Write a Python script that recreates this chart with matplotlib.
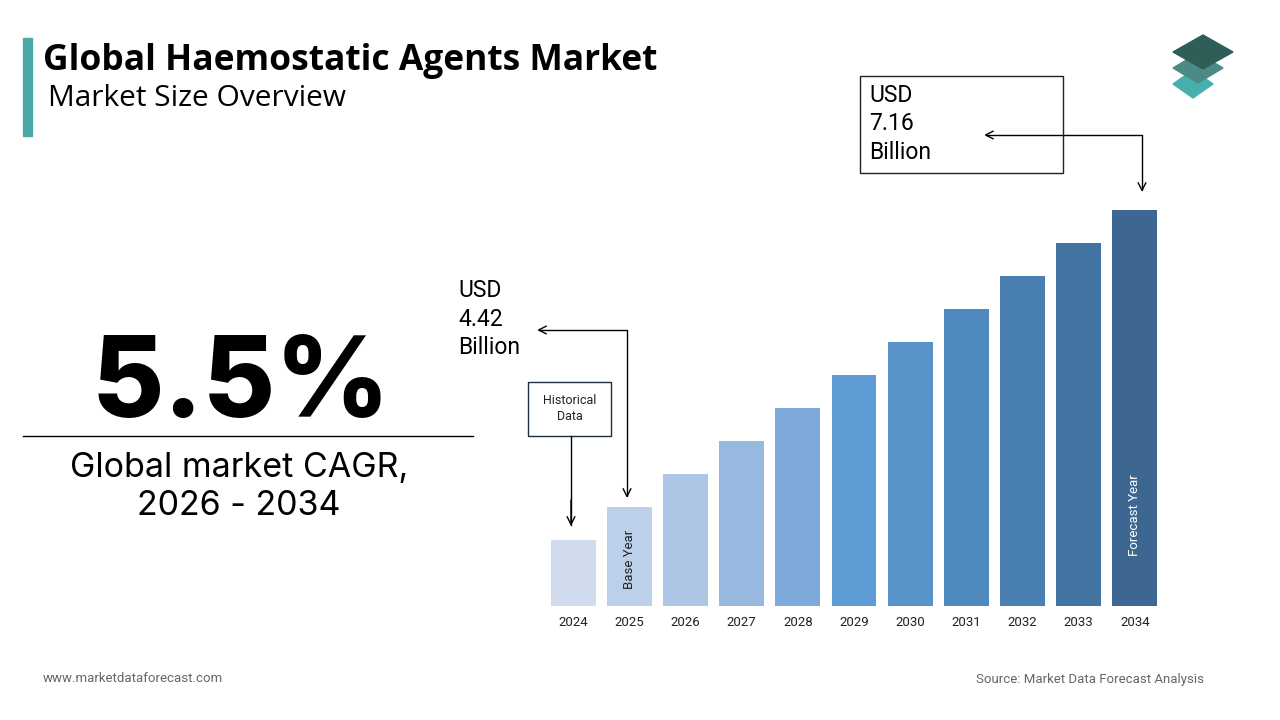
import matplotlib.pyplot as plt
from matplotlib.patches import Rectangle, Polygon

W, H = 1280, 720

years = ['2024', '2025', '2026', '2027', '2028', '2029', '2030', '2031', '2032', '2033', '2034']
# bar heights as drawn (relative units)
heights = [2, 3, 4, 5, 6, 7, 8, 9, 10, 11, 12]
bar_colors = ['#d0dcee', '#bdd0ea', '#aec6e5', '#97b9df', '#7eaadb', '#5d9bd5',
              '#5893c9', '#4f89bd', '#4a7fb1', '#4373a0', '#3d6790']
cagr = '5.5%'
base_label = 'USD\n4.42\nBillion'
end_label = 'USD\n7.16\nBillion'


def fx(x):
    return x / W


def fy(y):
    return 1 - y / H


fig = plt.figure(figsize=(12.8, 7.2), dpi=100)
fig.patch.set_facecolor('white')

# bar chart
ax = fig.add_axes([fx(545), fy(606), (1163 - 545) / W, (606 - 210) / H])
xs = range(len(years))
ax.bar(xs, heights, width=0.8, color=bar_colors)
ax.set_xlim(-0.5, len(years) - 0.5)
ax.set_ylim(0, 12)
ax.set_xticks(list(xs))
ax.set_xticklabels(years, fontsize=9.5, color='#222222', family='Roboto')
ax.tick_params(axis='x', length=0, pad=7)
ax.set_yticks([])
for s in ax.spines.values():
    s.set_visible(False)
ax.patch.set_alpha(0)

ax.text(1, 0.52, 'Base Year', rotation=90, ha='center', va='bottom',
        fontsize=9.5, color='#222222', family='Roboto')
ax.text(10, 1.5, 'Forecast Year', rotation=90, ha='center', va='bottom',
        fontsize=9.5, color='white', family='Roboto')

# title block
fig.add_artist(Rectangle((fx(23), fy(136)), 9 / W, 98 / H, color='#4aa8a8',
                         transform=fig.transFigure))
fig.text(fx(43), fy(61), 'Global Haemostatic Agents Market', fontsize=25.5,
         fontweight='bold', family='Open Sans', va='center', ha='left', color='black')
fig.text(fx(48), fy(99), 'Market Size Overview', fontsize=21.5,
         family='Open Sans', va='center', ha='left', color='black')

# logo
logo = [((1193, 84, 20, 14), '#45b0ad'), ((1198, 68, 25, 15), '#4d8a85'),
        ((1203, 52, 30, 17), '#2e5e58')]
for (cx, cy, hw, hh), c in logo:
    pts = [(fx(cx - hw), fy(cy)), (fx(cx), fy(cy - hh)),
           (fx(cx + hw), fy(cy)), (fx(cx), fy(cy + hh))]
    fig.add_artist(Polygon(pts, closed=True, color=c, transform=fig.transFigure))

# CAGR block
fig.text(fx(241), fy(388), cagr, fontsize=80, fontweight='heavy', family='Inter',
         ha='center', va='center', color='black')
fig.add_artist(plt.Line2D([fx(23), fx(473)], [fy(436), fy(436)], color='black',
                          lw=1, transform=fig.transFigure))
fig.text(fx(239), fy(468), 'Global market CAGR,', fontsize=24.5, family='Inter',
         ha='center', va='center', color='black')
fig.text(fx(239), fy(506), '2026 - 2034', fontsize=24.5, family='Inter',
         ha='center', va='center', color='black')

# historical data box
fig.text(fx(569.5), fy(409), 'Historical\nData', fontsize=9, family='Roboto',
         ha='center', va='center', color='#222222', linespacing=1.3)
fig.add_artist(Rectangle((fx(528), fy(436)), 83 / W, 54 / H, fill=False,
                         ec='#1f2e3d', lw=1, transform=fig.transFigure))
fig.add_artist(plt.Line2D([fx(571), fx(571)], [fy(436), fy(525)], color='black',
                          lw=1, transform=fig.transFigure))
ax.annotate('', xy=(fx(571), fy(526)), xytext=(fx(571), fy(500)),
            xycoords='figure fraction', textcoords='figure fraction',
            arrowprops=dict(arrowstyle='->', color='black', lw=1,
                            mutation_scale=14, shrinkA=0, shrinkB=0))

# base year value
fig.text(fx(458), fy(319), base_label, fontsize=16.5, family='Roboto',
         ha='left', va='center', color='black', linespacing=1.33)
ax.annotate('', xy=(fx(537), fy(330)), xytext=(fx(627), fy(498)),
            xycoords='figure fraction', textcoords='figure fraction',
            arrowprops=dict(arrowstyle='<->', color='black', lw=1, mutation_scale=14,
                            shrinkA=0, shrinkB=0,
                            connectionstyle='angle,angleA=90,angleB=0,rad=0'))

# forecast value
fig.add_artist(Rectangle((fx(860), fy(173)), (1063 - 860) / W, (173 - 76) / H,
                         fill=False, ec='#222222', lw=1, transform=fig.transFigure))
fig.text(fx(869), fy(124), end_label, fontsize=16.5, family='Roboto',
         ha='left', va='center', color='black', linespacing=1.33)
ax.annotate('', xy=(fx(984), fy(135)), xytext=(fx(1142), fy(192)),
            xycoords='figure fraction', textcoords='figure fraction',
            arrowprops=dict(arrowstyle='<->', color='black', lw=1, mutation_scale=14,
                            shrinkA=0, shrinkB=0,
                            connectionstyle='angle,angleA=90,angleB=0,rad=0'))

# footer
fig.text(fx(43), fy(679), 'www.marketdataforecast.com', fontsize=9.5,
         family='Roboto', color='#666666', ha='left', va='center')
fig.text(fx(1204), fy(679), 'Source: Market Data Forecast Analysis', fontsize=9.5,
         family='Roboto', color='#666666', ha='right', va='center')

fig.savefig('out.png', dpi=100, facecolor='white')
